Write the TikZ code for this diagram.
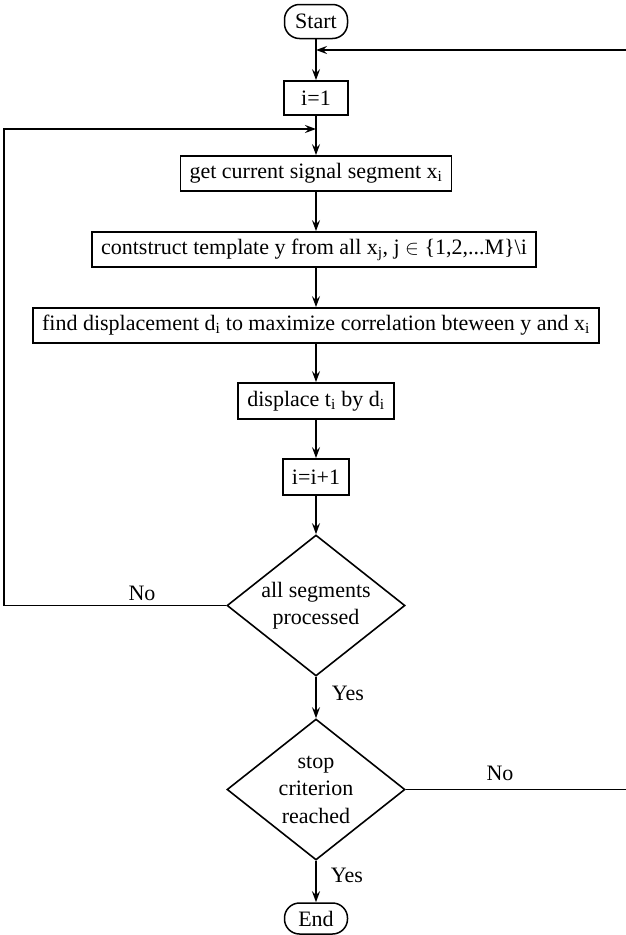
\documentclass[tikz,border=0pt]{standalone}
\usepackage{fontspec}
\setmainfont{Liberation Serif}
\usepackage{tikz}
\usetikzlibrary{shapes.geometric, arrows.meta, positioning}

\begin{document}
\begin{tikzpicture}[x=1pt, y=-1pt,
    font=\fontsize{22}{26}\selectfont,
    procbox/.style={draw, line width=1.8pt, rectangle, minimum height=35pt, minimum width=64pt, inner xsep=9pt, inner ysep=0pt},
    termbox/.style={draw, line width=1.5pt, rounded corners=15pt, minimum width=63pt, minimum height=34pt, inner sep=0pt},
    decision/.style={draw, diamond, aspect=1.26, line width=1.6pt, minimum width=178pt, minimum height=141pt, inner sep=0pt, align=center, font=\fontsize{22}{27.5}\selectfont},
    flow/.style={line width=1.8pt, -{Stealth[length=11pt, width=8pt, inset=4pt]}},
    backflow/.style={line width=1.3pt, -{Stealth[length=11pt, width=8pt, inset=4pt]}}]
  \useasboundingbox (0,0) rectangle (626,935);
  \clip (0,0) rectangle (626,935);

  % Start and init
  \node[termbox] (start) at (316, 21.5) {Start};
  \node[procbox, minimum height=34pt] (init) at (316, 98) {i=1};

  % main loop
  \node[procbox] (getseg) at (316, 173.5) {get current signal segment x\textsubscript{i}};
  \node[procbox] (template) at (314, 249.5) {contstruct template y from all x\textsubscript{j}, j $\in$ \{1,2,...M\}\textbackslash i};
  \node[procbox] (finddisp) at (316, 325.5) {find displacement d\textsubscript{i} to maximize correlation bteween y and x\textsubscript{i}};
  \node[procbox, minimum height=36pt] (shift) at (316, 401) {displace t\textsubscript{i} by d\textsubscript{i}};
  \node[procbox, minimum height=36pt] (count) at (316, 477) {i=i+1};

  % decisions
  \node[decision] (allseg) at (316, 605.5) {all segments\\processed};
  \node[decision] (stopcrit) at (316, 789.5) {stop\\criterion\\reached};
  \node[termbox, minimum height=31pt] (finish) at (316, 918.5) {End};

  \coordinate (topin) at (316, 50);
  \coordinate (loopin) at (316, 129);

  \draw[flow] (start) -- (init);
  \draw[flow] (init) -- (getseg);
  \draw[flow] (getseg) -- (template.north -| getseg);
  \draw[flow] (template.south -| getseg) -- (finddisp);
  \draw[flow] (finddisp) -- (shift);
  \draw[flow] (shift) -- (count);
  \draw[flow] (count) -- (allseg);
  \draw[flow] (allseg) -- (stopcrit);
  \draw[flow] (stopcrit) -- (finish);

  % back edges
  \draw[flow] (allseg.west) -- ++(-222, 0) |- (loopin);
  \draw[backflow] (stopcrit.east) -- ++(230, 0) |- (topin);

  % labels
  \node (no1) at (142, 593) {No};
  \node (yes1) at (348, 693) {Yes};
  \node (no2) at (500, 773) {No};
  \node (yes2) at (347, 875) {Yes};
\end{tikzpicture}
\end{document}
